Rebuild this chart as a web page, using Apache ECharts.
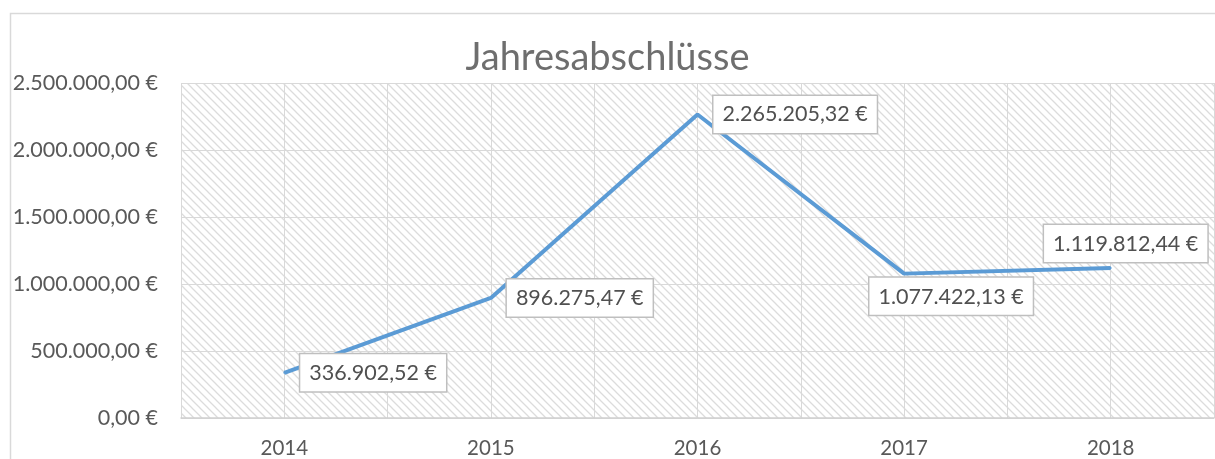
<!DOCTYPE html>
<html>
<head>
<meta charset="utf-8">
<script src="https://cdn.jsdelivr.net/npm/echarts@6/dist/echarts.min.js"></script>
<style>
html, body { margin: 0; padding: 0; background: #fff; }
#chart { width: 1215px; height: 459px; }
</style>
</head>
<body>
<div id="chart"></div>
<script>
"use strict";
// Daten
var jahre = ['2014', '2015', '2016', '2017', '2018'];
var abschluesse = [336902.52, 896275.47, 2265205.32, 1077422.13, 1119812.44];

// Zahl im deutschen Format mit Euro
function euro(v) {
    var teile = v.toFixed(2).split('.');
    var ganz = teile[0].replace(/\B(?=(\d{3})+(?!\d))/g, '.');
    return ganz + ',' + teile[1] + ' €';
}

// Schraffur für den Zeichenbereich
function schraffur() {
    var c = document.createElement('canvas');
    c.width = 8; c.height = 8;
    var ctx = c.getContext('2d');
    ctx.fillStyle = '#ffffff';
    ctx.fillRect(0, 0, 8, 8);
    ctx.strokeStyle = '#dcdcdc';
    ctx.lineWidth = 1.3;
    ctx.beginPath();
    ctx.moveTo(-1, -1); ctx.lineTo(9, 9);
    ctx.moveTo(-1, 7); ctx.lineTo(1, 9);
    ctx.moveTo(7, -1); ctx.lineTo(9, 1);
    ctx.stroke();
    return c;
}

var schrift = 'Lato, "Noto Sans", sans-serif';

var labelBasis = {
    show: true,
    formatter: function (p) { return euro(p.value); },
    fontFamily: schrift,
    fontSize: 21.5,
    color: '#505050',
    backgroundColor: '#ffffff',
    borderColor: '#bfbfbf',
    borderWidth: 1.5,
    padding: [8, 9, 7, 9]
};

var punkte = abschluesse.map(function (v, i) {
    var lab;
    if (i === 3) {
        lab = { position: 'bottom', distance: 3, offset: [47, 0] };
    } else if (i === 4) {
        lab = { position: 'top', distance: 5, offset: [15, 0] };
    } else {
        lab = { position: 'right', distance: 15 };
    }
    return { value: v, label: lab };
});

var myChart = echarts.init(document.getElementById('chart'));
var option = {
    animation: false,
    backgroundColor: '#ffffff',
    title: {
        text: 'Jahresabschlüsse',
        left: 'center',
        top: 34,
        textStyle: {
            fontFamily: schrift,
            fontSize: 38,
            fontWeight: 'normal',
            color: '#6e6e6e'
        }
    },
    graphic: [{
        type: 'rect',
        shape: { x: 10.5, y: 13.5, width: 1230, height: 480 },
        style: { fill: 'none', stroke: '#d9d9d9', lineWidth: 1.5 },
        z: -1
    }],
    grid: {
        left: 181,
        right: 1,
        top: 83,
        bottom: 41,
        show: true,
        borderWidth: 0,
        backgroundColor: { image: schraffur(), repeat: 'repeat' }
    },
    xAxis: [{
        type: 'category',
        data: jahre,
        boundaryGap: true,
        axisLine: { lineStyle: { color: '#d0d0d0', width: 1.5 } },
        axisTick: { show: false },
        splitLine: { show: false },
        axisLabel: {
            margin: 20,
            fontFamily: schrift,
            fontSize: 20.5,
            color: '#595959'
        }
    }, {
        type: 'value',
        min: 0,
        max: 10,
        interval: 1,
        position: 'bottom',
        axisLine: { show: false },
        axisTick: { show: false },
        axisLabel: { show: false },
        splitLine: { show: true, lineStyle: { color: '#d9d9d9', width: 1 } }
    }],
    yAxis: {
        type: 'value',
        min: 0,
        max: 2500000,
        interval: 500000,
        axisLine: { show: false },
        axisTick: { show: false },
        splitLine: { lineStyle: { color: '#d9d9d9', width: 1 } },
        axisLabel: {
            margin: 23,
            fontFamily: schrift,
            fontSize: 21.5,
            color: '#595959',
            formatter: function (v) { return euro(v); }
        }
    },
    series: [{
        type: 'line',
        xAxisIndex: 0,
        data: punkte,
        symbol: 'circle',
        symbolSize: 2,
        itemStyle: { color: '#5b9bd5' },
        lineStyle: { color: '#5b9bd5', width: 4 },
        label: labelBasis,
        z: 5
    }]
};
myChart.setOption(option);

window.onresize = function () {
    myChart.resize();
};
</script>
</body>
</html>
